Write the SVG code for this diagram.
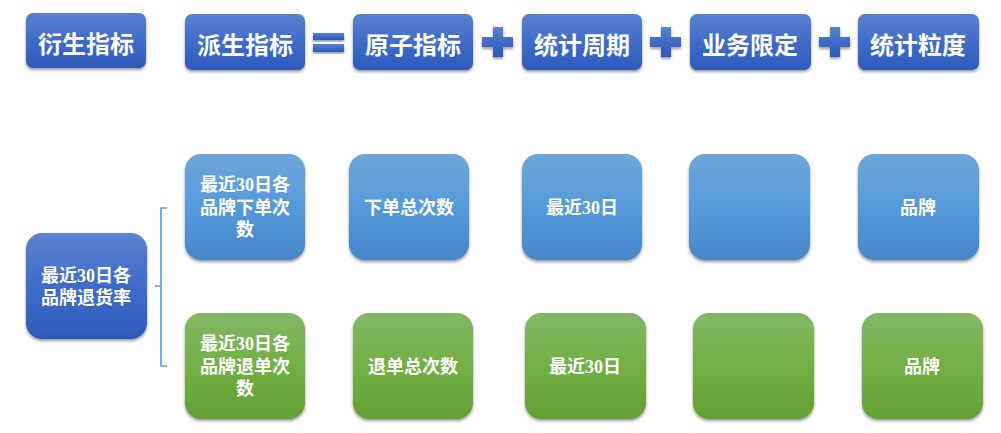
<svg xmlns="http://www.w3.org/2000/svg" width="1001" height="433" viewBox="0 0 1001 433">
<defs>
<linearGradient id="gDark" x1="0" y1="0" x2="0" y2="1"><stop offset="0" stop-color="#5b82cf"/><stop offset="0.5" stop-color="#3f6cc8"/><stop offset="1" stop-color="#2e5bbb"/></linearGradient>
<linearGradient id="gLight" x1="0" y1="0" x2="0" y2="1"><stop offset="0" stop-color="#6fa6da"/><stop offset="0.5" stop-color="#559ada"/><stop offset="1" stop-color="#4686c8"/></linearGradient>
<linearGradient id="gGreen" x1="0" y1="0" x2="0" y2="1"><stop offset="0" stop-color="#84b766"/><stop offset="0.5" stop-color="#72b045"/><stop offset="1" stop-color="#62a034"/></linearGradient>
<filter id="sh" x="-10%" y="-10%" width="120%" height="130%"><feDropShadow dx="0" dy="2" stdDeviation="1.6" flood-color="#000" flood-opacity="0.4"/></filter>
</defs>
<style>
.t{font-family:"Noto Sans CJK SC","Noto Sans",sans-serif;font-weight:bold;fill:#fff;font-size:24px;text-anchor:middle;dominant-baseline:central}
.b{font-family:"Liberation Serif","Noto Sans CJK SC",serif;font-weight:bold;fill:#fff;font-size:18px;text-anchor:middle;dominant-baseline:central}
.sym{fill:url(#gDark);filter:url(#sh)}
</style>
<g id="n-yansheng"><rect x="26" y="13" width="120" height="55" rx="7" fill="url(#gDark)" filter="url(#sh)"/><text class="t" x="86" y="42">衍生指标</text></g>
<g id="n-paisheng"><rect x="185" y="14" width="120" height="56" rx="7" fill="url(#gDark)" filter="url(#sh)"/><text class="t" x="245" y="43">派生指标</text></g>
<g id="sym-eq"><rect class="sym" x="313" y="33" width="31" height="7"/><rect class="sym" x="313" y="44" width="31" height="8"/></g>
<g id="n-yuanzi"><rect x="353" y="14" width="120" height="56" rx="7" fill="url(#gDark)" filter="url(#sh)"/><text class="t" x="413" y="43">原子指标</text></g>
<g id="sym-p1"><path class="sym" d="M493 27h10v10h10v10h-10v10h-10v-10h-11v-10h11z"/></g>
<g id="n-zhouqi"><rect x="522" y="14" width="120" height="56" rx="7" fill="url(#gDark)" filter="url(#sh)"/><text class="t" x="582" y="43">统计周期</text></g>
<g id="sym-p2"><path class="sym" d="M661 27h10v10h10v10h-10v10h-10v-10h-11v-10h11z"/></g>
<g id="n-xianding"><rect x="690" y="14" width="121" height="56" rx="7" fill="url(#gDark)" filter="url(#sh)"/><text class="t" x="750" y="43">业务限定</text></g>
<g id="sym-p3"><path class="sym" d="M830 27h10v10h10v10h-10v10h-10v-10h-11v-10h11z"/></g>
<g id="n-lidu"><rect x="858" y="14" width="121" height="56" rx="7" fill="url(#gDark)" filter="url(#sh)"/><text class="t" x="918" y="43">统计粒度</text></g>

<g id="connectors"><path d="M167 208h-6v158h6M161 286h-6" fill="none" stroke="#5b9bd5" stroke-width="1.6"/></g>

<g id="n-rate"><rect x="26" y="233" width="121" height="106" rx="16" fill="url(#gDark)" filter="url(#sh)"/><text class="b" x="86" y="276">最近30日各</text><text class="b" x="86" y="298">品牌退货率</text></g>

<g id="n-b1"><rect x="185" y="154" width="120" height="106" rx="16" fill="url(#gLight)" filter="url(#sh)"/><text class="b" x="245" y="185">最近30日各</text><text class="b" x="245" y="208">品牌下单次</text><text class="b" x="245" y="230">数</text></g>
<g id="n-b2"><rect x="349" y="154" width="120" height="106" rx="16" fill="url(#gLight)" filter="url(#sh)"/><text class="b" x="409" y="208">下单总次数</text></g>
<g id="n-b3"><rect x="522" y="154" width="120" height="106" rx="16" fill="url(#gLight)" filter="url(#sh)"/><text class="b" x="582" y="208">最近30日</text></g>
<g id="n-b4"><rect x="689" y="154" width="121" height="106" rx="16" fill="url(#gLight)" filter="url(#sh)"/></g>
<g id="n-b5"><rect x="858" y="154" width="121" height="106" rx="16" fill="url(#gLight)" filter="url(#sh)"/><text class="b" x="918" y="208">品牌</text></g>

<g id="n-g1"><rect x="185" y="313" width="120" height="106" rx="16" fill="url(#gGreen)" filter="url(#sh)"/><text class="b" x="245" y="344">最近30日各</text><text class="b" x="245" y="367">品牌退单次</text><text class="b" x="245" y="389">数</text></g>
<g id="n-g2"><rect x="353" y="313" width="120" height="106" rx="16" fill="url(#gGreen)" filter="url(#sh)"/><text class="b" x="413" y="367">退单总次数</text></g>
<g id="n-g3"><rect x="525" y="313" width="121" height="106" rx="16" fill="url(#gGreen)" filter="url(#sh)"/><text class="b" x="585" y="367">最近30日</text></g>
<g id="n-g4"><rect x="693" y="313" width="121" height="106" rx="16" fill="url(#gGreen)" filter="url(#sh)"/></g>
<g id="n-g5"><rect x="862" y="313" width="121" height="106" rx="16" fill="url(#gGreen)" filter="url(#sh)"/><text class="b" x="922" y="367">品牌</text></g>
</svg>
